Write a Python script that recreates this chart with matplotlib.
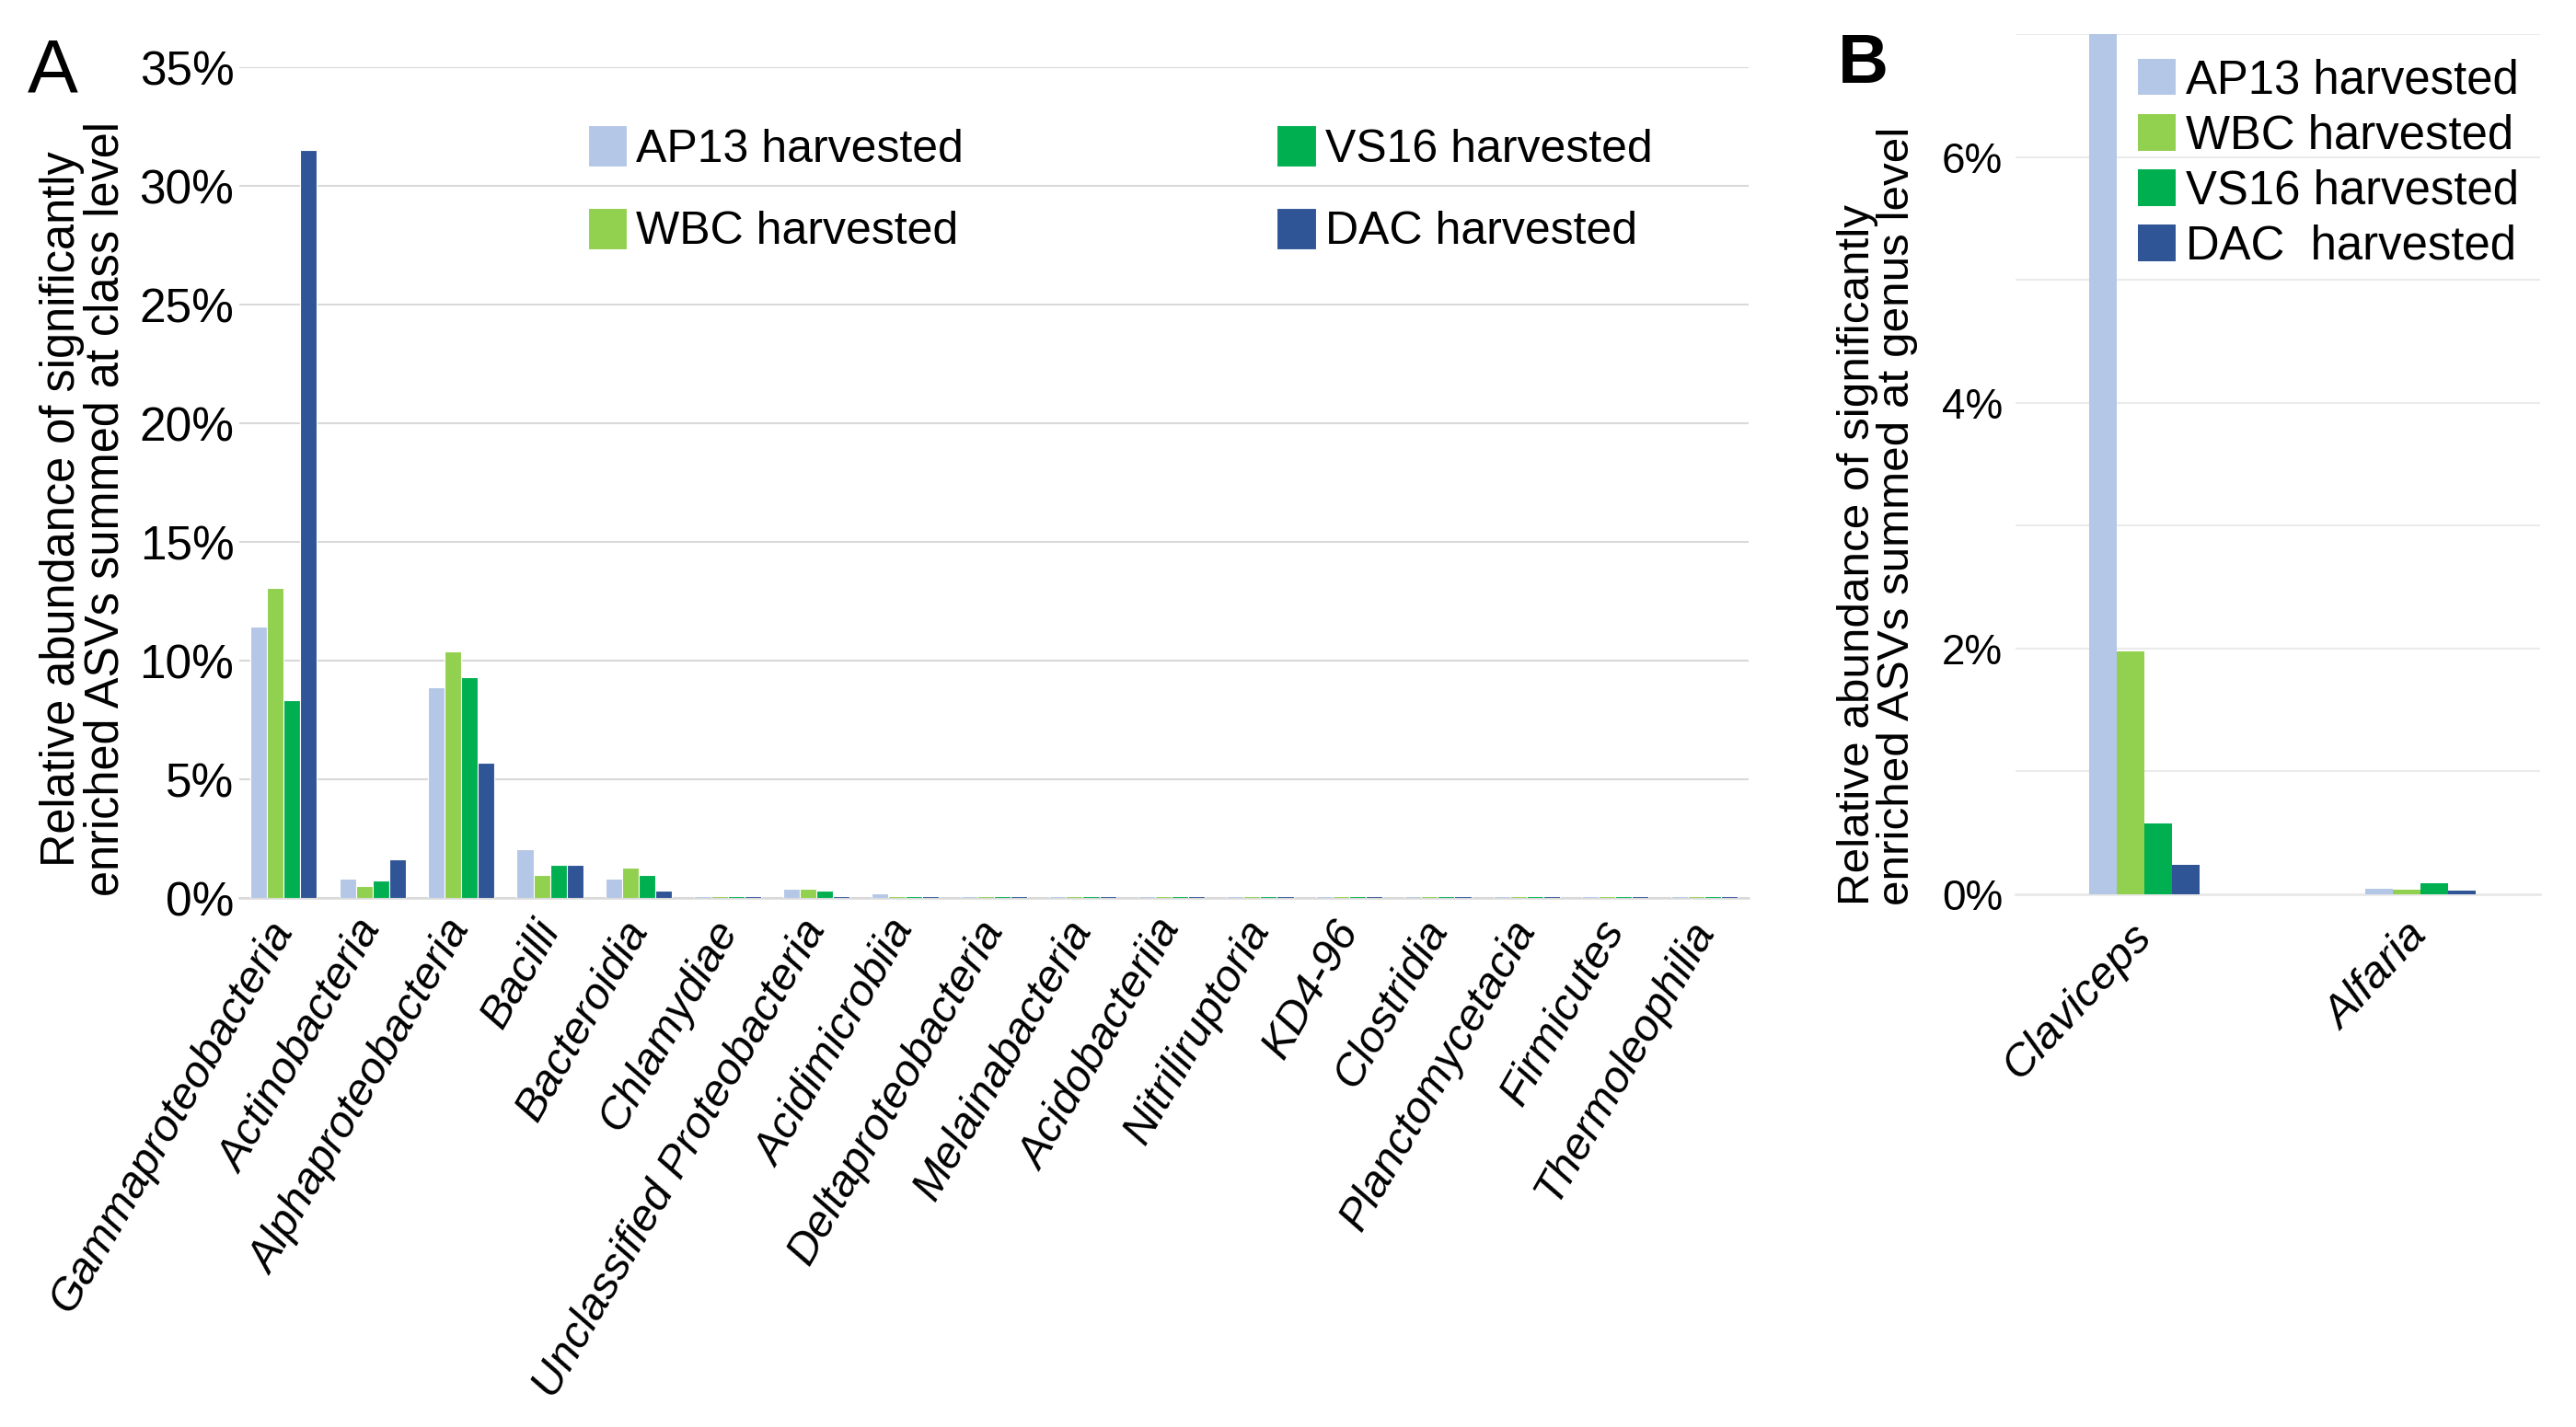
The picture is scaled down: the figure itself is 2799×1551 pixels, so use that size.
import matplotlib
matplotlib.use("Agg")
import matplotlib.pyplot as plt
import numpy as np

plt.rcParams['font.family'] = ['Liberation Sans', 'DejaVu Sans']

# panel A: class level
classes = ["Gammaproteobacteria", "Actinobacteria", "Alphaproteobacteria", "Bacilli",
           "Bacteroidia", "Chlamydiae", "Unclassified Proteobacteria", "Acidimicrobiia",
           "Deltaproteobacteria", "Melainabacteria", "Acidobacteriia", "Nitriliruptoria",
           "KD4-96", "Clostridia", "Planctomycetacia", "Firmicutes", "Thermoleophilia"]
ap13_a = [11.45, 0.83, 8.86, 2.07, 0.83, 0.08, 0.39, 0.19, 0.08, 0.08, 0.08, 0.08, 0.08, 0.08, 0.08, 0.08, 0.08]
wbc_a = [13.08, 0.52, 10.40, 0.98, 1.29, 0.08, 0.39, 0.08, 0.08, 0.08, 0.08, 0.08, 0.08, 0.08, 0.08, 0.08, 0.08]
vs16_a = [8.35, 0.75, 9.32, 1.41, 0.98, 0.08, 0.31, 0.08, 0.08, 0.08, 0.08, 0.08, 0.08, 0.08, 0.08, 0.08, 0.08]
dac_a = [31.5, 1.62, 5.71, 1.41, 0.31, 0.08, 0.08, 0.08, 0.08, 0.08, 0.08, 0.08, 0.08, 0.08, 0.08, 0.08, 0.08]
yticks_a = [0, 5, 10, 15, 20, 25, 30, 35]

# panel B: genus level
genera = ["Claviceps", "Alfaria"]
ap13_b = [7.0, 0.045]
wbc_b = [1.98, 0.037]
vs16_b = [0.58, 0.087]
dac_b = [0.24, 0.03]
yticks_b = [0, 2, 4, 6]
ygrid_b = [1, 3, 5, 7]

colors = ["#B4C7E7", "#92D050", "#00B050", "#2F5597"]

fig = plt.figure(figsize=(13.995, 7.755), dpi=200)

# ---- A ----
axA = fig.add_axes([0.0929, 0.3707, 0.5859, 0.5822])
x = np.arange(len(classes))
w = 0.1875
labels_a = ["AP13 harvested", "WBC harvested", "VS16 harvested", "DAC harvested"]
for i, (vals, c, lab) in enumerate(zip([ap13_a, wbc_a, vs16_a, dac_a], colors, labels_a)):
    axA.bar(x + (i - 1.5) * w, vals, w, color=c, edgecolor="white", linewidth=0.4,
            label=lab, zorder=3)
axA.set_xlim(-0.5, len(classes) - 0.5)
axA.set_ylim(0, 35)
axA.set_yticks(yticks_a)
axA.set_yticklabels([f"{v}%" for v in yticks_a], fontsize=18.5)
axA.set_xticks(x)
axA.set_xticklabels(classes, rotation=60, ha="right", va="center", rotation_mode="anchor",
                    fontsize=17.5, style="italic")
axA.tick_params(axis="both", length=0)
axA.tick_params(axis="y", pad=2)
axA.tick_params(axis="x", pad=10)
axA.grid(axis="y", color="#D9D9D9", linewidth=0.75, zorder=0)
for s in axA.spines.values():
    s.set_visible(False)
axA.axhline(0, color="#D9D9D9", linewidth=0.9, zorder=1, clip_on=False)
axA.legend(ncol=2, loc="upper left", bbox_to_anchor=(0.231, 0.93), frameon=False,
           fontsize=18, handlelength=0.85, handleheight=1.0, handletextpad=0.2,
           labelspacing=0.8, columnspacing=6.8, borderpad=0, borderaxespad=0)

fig.text(0.0325, 0.6434, "Relative abundance of significantly\nenriched ASVs summed at class level",
         rotation=90, ha="center", va="center", fontsize=18.2, linespacing=0.95)
fig.text(0.0107, 0.936, "A", fontsize=29.6, va="baseline", ha="left")

# ---- B ----
axB = fig.add_axes([0.7824, 0.3733, 0.2037, 0.6028])
xb = np.arange(len(genera))
wb = 0.1
labels_b = ["AP13 harvested", "WBC harvested", "VS16 harvested", "DAC  harvested"]
for i, (vals, c, lab) in enumerate(zip([ap13_b, wbc_b, vs16_b, dac_b], colors, labels_b)):
    axB.bar(xb + (i - 1.5) * wb, vals, wb, color=c, linewidth=0, label=lab, zorder=3)
axB.set_xlim(-0.467, 1.433)
axB.set_ylim(0, 7)
axB.set_yticks(yticks_b)
axB.set_yticklabels([f"{v}%" for v in yticks_b], fontsize=16.5)
axB.set_yticks(ygrid_b, minor=True)
axB.set_xticks(xb)
axB.set_xticklabels(genera, rotation=47, ha="right", va="center", rotation_mode="anchor",
                    fontsize=17.7, style="italic")
axB.tick_params(axis="both", which="both", length=0)
axB.tick_params(axis="y", pad=5)
axB.tick_params(axis="x", pad=14)
axB.grid(axis="y", which="both", color="#EBEBEB", linewidth=0.75, zorder=0)
for s in axB.spines.values():
    s.set_visible(False)
axB.axhline(0, color="#E6E6E6", linewidth=0.9, zorder=1, clip_on=False)
axB.legend(loc="upper left", bbox_to_anchor=(0.233, 0.972), frameon=False,
           fontsize=18.3, handlelength=0.82, handleheight=0.82, handletextpad=0.2,
           labelspacing=0.22, borderpad=0, borderaxespad=0)

fig.text(0.7288, 0.3656, "Relative abundance of significantly\nenriched ASVs summed at genus level",
         rotation=90, ha="center", va="bottom", multialignment="left",
         fontsize=17.8, linespacing=0.95)
fig.text(0.7135, 0.942, "B", fontsize=27.5, va="baseline", ha="left", fontweight="bold")

fig.savefig("out.png", dpi=200)
